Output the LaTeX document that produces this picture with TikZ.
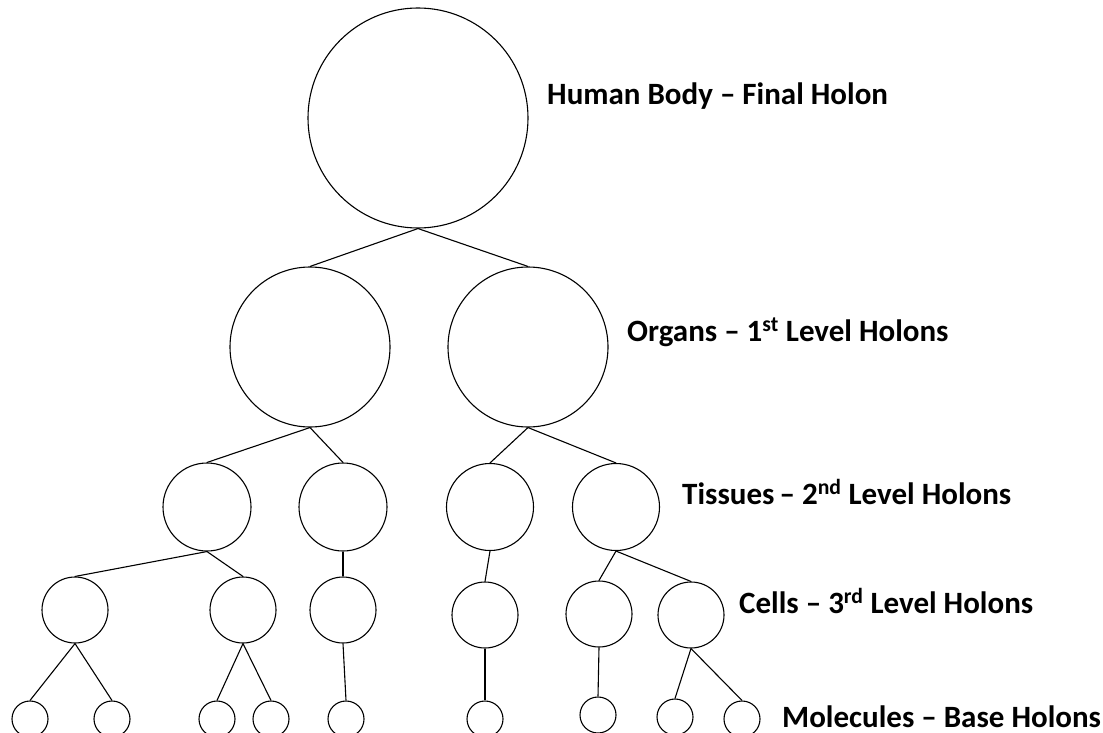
\documentclass[tikz,border=0pt]{standalone}
\usepackage{fontspec}
\setmainfont{Carlito}
\begin{document}
\begin{tikzpicture}[x=1pt,y=-1pt,
  holon/.style={draw, circle, inner sep=0pt, line width=1.1pt, minimum size=#1},
  link/.style={line width=1.1pt},
  lbl/.style={anchor=base west, inner sep=0pt, font=\fontsize{31}{36}\selectfont\bfseries}]
\useasboundingbox (0,0) rectangle (1103,733);
\clip (0,0) rectangle (1103,733);
% level 0
\node[holon=220pt] (top) at (418,118) {};
% level 1
\node[holon=160pt] (o1) at (310,347) {};
\node[holon=160pt] (o2) at (528,347) {};
% level 2
\node[holon=88pt] (t1) at (207,507) {};
\node[holon=88pt] (t2) at (343,507) {};
\node[holon=87pt] (t3) at (490,507) {};
\node[holon=87pt] (t4) at (616,507) {};
% level 3
\node[holon=66pt] (c1) at (75,610) {};
\node[holon=66pt] (c2) at (243,610) {};
\node[holon=66pt] (c3) at (343,610) {};
\node[holon=66pt] (c4) at (485,615) {};
\node[holon=66pt] (c5) at (599,614) {};
\node[holon=66pt] (c6) at (691,615) {};
% level 4
\node[holon=36pt] (m1) at (30,719) {};
\node[holon=36pt] (m2) at (112,719) {};
\node[holon=36pt] (m3) at (217,719) {};
\node[holon=36pt] (m4) at (271,719) {};
\node[holon=36pt] (m5) at (346,719) {};
\node[holon=36pt] (m6) at (485,719) {};
\node[holon=36pt] (m7) at (598,715) {};
\node[holon=36pt] (m8) at (675,717) {};
\node[holon=36pt] (m9) at (742,719) {};
% connectors
\draw[link] (top.south) -- (o1.north);
\draw[link] (top.south) -- (o2.north);
\draw[link] (o1.south) -- (t1.north);
\draw[link] (o1.south) -- (t2.north);
\draw[link] (o2.south) -- (t3.north);
\draw[link] (o2.south) -- (t4.north);
\draw[link] (t1.south) -- (c1.north);
\draw[link] (t1.south) -- (c2.north);
\draw[link] (t2.south) -- (c3.north);
\draw[link] (t3.south) -- (c4.north);
\draw[link] (t4.south) -- (c5.north);
\draw[link] (t4.south) -- (c6.north);
\draw[link] (c1.south) -- (m1.north);
\draw[link] (c1.south) -- (m2.north);
\draw[link] (c2.south) -- (m3.north);
\draw[link] (c2.south) -- (m4.north);
\draw[link] (c3.south) -- (m5.north);
\draw[link] (c4.south) -- (m6.north);
\draw[link] (c5.south) -- (m7.north);
\draw[link] (c6.south) -- (m8.north);
\draw[link] (c6.south) -- (m9.north);
% labels
\node[lbl] (l0) at (547,105) {Human Body – Final Holon};
\node[lbl] (l1) at (627,341) {Organs – 1\textsuperscript{st} Level Holons};
\node[lbl] (l2) at (682,504) {Tissues\,– 2\textsuperscript{nd} Level Holons};
\node[lbl] (l3) at (739,613) {Cells – 3\textsuperscript{rd} Level Holons};
\node[lbl] (l4) at (782,727) {Molecules – Base Holons};
\end{tikzpicture}
\end{document}
